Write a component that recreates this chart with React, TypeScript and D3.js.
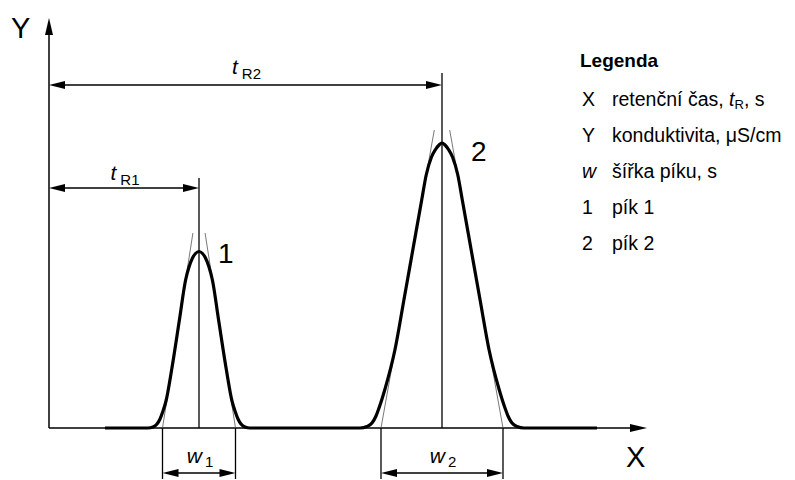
import React from "react";
import * as d3 from "d3";

const width = 795,
  height = 480;

// chromatogram trace (time, conductivity), schematic units
const traceTime = [
  56, 99, 104, 108, 111, 114, 117, 122.6, 130.4, 136.6, 140, 143.5, 146.5, 150,
  153.5, 156.5, 160, 163.4, 169.6, 177.4, 183, 186, 189, 192, 196, 201,
  311, 318, 323, 327, 330, 333, 336, 345.9, 354.9, 363.8, 372.7, 377.2, 382.5, 386.5, 390, 393,
  396, 399.5, 403.5, 408.8, 413.3, 422.2, 431.1, 440.1, 450, 453, 456, 459, 463, 468, 475, 548
];
const traceSignal = [
  0, 0, 1, 4, 9, 17, 27, 58, 108, 148, 161, 170, 174.5, 176.5,
  174.5, 170, 161, 148, 108, 58, 27, 17, 9, 4, 1, 0,
  0, 1.5, 5, 12, 20, 29, 39, 78, 128, 178, 228, 253, 271, 278.5, 283, 285,
  283, 278.5, 271, 253, 228, 178, 128, 78, 39, 29, 20, 12, 5, 1.5, 0, 0
];

const peakNames = ["1", "2"];
const retentionTimes = [150, 393];
const peakWidths = [73, 122];
const tangentApex = [234, 341];
const tangentEnd = [195, 298];
const peakTops = [176.5, 285];
const retentionSubs = ["R1", "R2"];
const dimLevels = [240, 343];
const markTops = [250, 355];
const widthLevel = -45;
const widthBottom = -51;

const xAxisEnd = 598;
const yAxisEnd = 410;

const legendKeys = ["X", "Y", "w", "1", "2"];
const legendTexts = ["retenční čas, ", "konduktivita, μS/cm", "šířka píku, s", "pík 1", "pík 2"];

const font = "'Liberation Sans', Arial, sans-serif";

function arrow(x: number, y: number, dir: string, len = 16, half = 4) {
  if (dir === "left") return `M${x},${y}L${x + len},${y - half}L${x + len},${y + half}Z`;
  if (dir === "right") return `M${x},${y}L${x - len},${y - half}L${x - len},${y + half}Z`;
  if (dir === "up") return `M${x},${y}L${x - half},${y + len}L${x + half},${y + len}Z`;
  return `M${x},${y}L${x - half},${y - len}L${x + half},${y - len}Z`;
}

export default function App() {
  const xScale = d3.scaleLinear().domain([0, 600]).range([49, 649]);
  const yScale = d3.scaleLinear().domain([0, 400]).range([428, 28]);

  const line = d3
    .line<[number, number]>()
    .x(d => xScale(d[0]))
    .y(d => yScale(d[1]))
    .curve(d3.curveMonotoneX);

  const trace = traceTime.map((t, i) => [t, traceSignal[i]] as [number, number]);
  const x0 = xScale(0),
    y0 = yScale(0);

  return (
    <svg
      width={width}
      height={height}
      style={{ position: "absolute", left: 0, top: 0, background: "#fff" }}
      fontFamily={font}
    >
      {/* axes */}
      <line x1={x0} y1={y0} x2={xScale(xAxisEnd) - 10} y2={y0} stroke="#000" strokeWidth={1.5} />
      <path d={arrow(xScale(xAxisEnd), y0, "right", 17, 4)} fill="#000" />
      <line x1={x0} y1={y0} x2={x0} y2={yScale(yAxisEnd) + 10} stroke="#000" strokeWidth={1.5} />
      <path d={arrow(x0, yScale(yAxisEnd), "up", 17, 4)} fill="#000" />
      <text x={11} y={38} fontSize={29}>Y</text>
      <text x={626} y={467} fontSize={29}>X</text>

      {peakNames.map((p, i) => {
        const tR = retentionTimes[i];
        const bl = tR - peakWidths[i] / 2,
          br = tR + peakWidths[i] / 2;
        const f = tangentEnd[i] / tangentApex[i];
        const xl = bl + (tR - bl) * f,
          xr = br - (br - tR) * f;
        const cx = xScale(tR);
        const dy = yScale(dimLevels[i]);
        const wy = yScale(widthLevel);
        return (
          <g key={p}>
            {/* tangents */}
            <line x1={xScale(bl)} y1={y0} x2={xScale(xl)} y2={yScale(tangentEnd[i])} stroke="#555" strokeWidth={0.8} />
            <line x1={xScale(br)} y1={y0} x2={xScale(xr)} y2={yScale(tangentEnd[i])} stroke="#555" strokeWidth={0.8} />
            {/* retention mark */}
            <line x1={cx} y1={yScale(markTops[i])} x2={cx} y2={y0} stroke="#000" strokeWidth={1.3} />
            <line x1={x0 + 10} y1={dy} x2={cx - 10} y2={dy} stroke="#000" strokeWidth={1.3} />
            <path d={arrow(x0, dy, "left")} fill="#000" />
            <path d={arrow(cx, dy, "right")} fill="#000" />
            <text x={(x0 + cx) / 2 + 1} y={dy - 8 - (i === 1 ? 3 : 0)} textAnchor="middle" fontSize={21}>
              <tspan fontStyle="italic">t</tspan>
              <tspan dx={4} dy={5} fontSize={15}>{retentionSubs[i]}</tspan>
            </text>
            {/* peak width */}
            <line x1={xScale(bl)} y1={y0} x2={xScale(bl)} y2={yScale(widthBottom)} stroke="#000" strokeWidth={1.3} />
            <line x1={xScale(br)} y1={y0} x2={xScale(br)} y2={yScale(widthBottom)} stroke="#000" strokeWidth={1.3} />
            <line x1={xScale(bl) + 10} y1={wy} x2={xScale(br) - 10} y2={wy} stroke="#000" strokeWidth={1.3} />
            <path d={arrow(xScale(bl), wy, "left")} fill="#000" />
            <path d={arrow(xScale(br), wy, "right")} fill="#000" />
            <text x={(xScale(bl) + xScale(br)) / 2 + 1} y={wy - 10} textAnchor="middle" fontSize={21}>
              <tspan fontStyle="italic">w</tspan>
              <tspan dx={3} dy={4} fontSize={15}>{p}</tspan>
            </text>
            {/* peak label */}
            <text x={cx + (i === 0 ? 19 : 29)} y={yScale(peakTops[i]) - (i === 0 ? -11 : -18)} fontSize={28}>
              {p}
            </text>
          </g>
        );
      })}

      {/* trace */}
      <path d={line(trace) || ""} fill="none" stroke="#000" strokeWidth={3.2} strokeLinejoin="round" />

      {/* legend */}
      <g fontSize={19.5}>
        <text x={580} y={67} fontWeight="bold" fontSize={19}>Legenda</text>
        {legendKeys.map((k, i) => {
          const y = 106 + i * 36;
          return (
            <g key={k + i}>
              <text x={582} y={y} fontStyle={k === "w" ? "italic" : "normal"}>{k}</text>
              <text x={612} y={y}>
                {legendTexts[i]}
                {i === 0 && (
                  <>
                    <tspan fontStyle="italic">t</tspan>
                    <tspan fontSize={13} dy={3}>R</tspan>
                    <tspan dy={-3}>, s</tspan>
                  </>
                )}
              </text>
            </g>
          );
        })}
      </g>
    </svg>
  );
}
